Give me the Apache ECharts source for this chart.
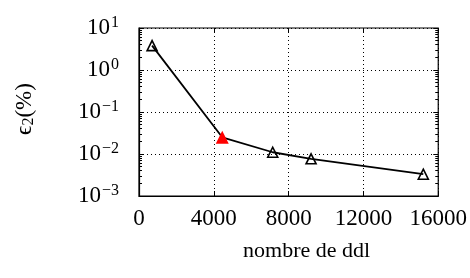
<!DOCTYPE html>
<html lang="fr">
<head>
    <meta charset="utf-8" />
    <title>erreur vs ddl</title>
    <script type="text/javascript" src="https://cdn.jsdelivr.net/npm/echarts/dist/echarts.min.js"></script>
    <style>
        html, body { margin: 0; padding: 0; background: #fff; }
        #chart { width: 470px; height: 278px; }
    </style>
</head>
<body>
    <div id="chart"></div>
    <script type="text/javascript">
        // donnees
        var ddl = [700, 4450, 7150, 9200, 15200];
        var err = [3.8, 0.025, 0.011, 0.0077, 0.0033];
        var redIndex = 1;   // point mis en evidence (rouge)
        var xTicks = [0, 4000, 8000, 12000, 16000];
        var decades = [0.001, 0.01, 0.1, 1];
        var mantissas = [2, 3, 4, 5, 6, 7, 8, 9];

        var font = 'Liberation Serif';
        var xMin = xTicks[0], xMax = xTicks[xTicks.length - 1];

        function logLabel(v) {
            var e = Math.round(Math.log10(v));
            var s = e < 0 ? '\u2212' + (-e) : '' + e;
            return '{b|10}{e|' + s + '}';
        }

        var points = [];
        for (var i = 0; i < ddl.length; i++) {
            var p = { value: [ddl[i], err[i]] };
            if (i === redIndex) {
                p.symbolSize = 13;
                p.itemStyle = { color: '#ff0000', borderColor: '#ff0000', borderWidth: 0 };
            }
            points.push(p);
        }

        // petites graduations du log
        var minorTicks = [];
        decades.forEach(function (d) {
            mantissas.forEach(function (m) { minorTicks.push(+(m * d).toPrecision(3)); });
        });

        function majorTick() { return { show: true, inside: true, length: 5, lineStyle: { color: '#000' } }; }
        function dotted() { return { show: true, lineStyle: { color: '#000', type: [1, 3], width: 1 } }; }

        function minorAxis(pos) {
            return {
                type: 'log',
                position: pos,
                min: 0.001, max: 10, logBase: 10,
                axisLine: { show: false, onZero: false },
                axisTick: { show: true, inside: true, length: 3, customValues: minorTicks, lineStyle: { color: '#000' } },
                axisLabel: { show: false },
                splitLine: { show: false }
            };
        }

        var chart = echarts.init(document.getElementById('chart'));
        var option = {
            animation: false,
            backgroundColor: '#fff',
            textStyle: { fontFamily: font, color: '#000' },
            // le cadre complet
            grid: { left: 139, right: 30, top: 28, bottom: 82, containLabel: false,
                    show: true, borderColor: '#000', borderWidth: 1.2, backgroundColor: 'transparent' },
            xAxis: [{
                type: 'value',
                min: xMin, max: xMax, interval: 4000,
                name: 'nombre de ddl',
                nameLocation: 'middle',
                nameGap: 44,
                nameTextStyle: { fontFamily: font, fontSize: 22, color: '#000', padding: [0, 0, 0, 36] },
                axisLine: { show: true, onZero: false, lineStyle: { color: '#000', width: 1.2 } },
                axisTick: majorTick(),
                axisLabel: { fontFamily: font, fontSize: 23, color: '#000', margin: 11, formatter: function (v) { return '' + v; } },
                splitLine: dotted()
            }, {
                type: 'value',
                position: 'top',
                min: xMin, max: xMax, interval: 4000,
                axisLine: { show: false, onZero: false },
                axisTick: majorTick(),
                axisLabel: { show: false },
                splitLine: { show: false }
            }],
            yAxis: [{
                type: 'log',
                min: 0.001, max: 10, logBase: 10,
                name: '{n|\u03f5}{s|2}{n|(%)}',
                nameLocation: 'middle',
                nameRotate: 90,
                nameGap: 102,
                nameTextStyle: {
                    color: '#000',
                    padding: [0, 0, 0, 6],
                    rich: {
                        n: { fontFamily: font, fontSize: 23, color: '#000' },
                        s: { fontFamily: font, fontSize: 16, color: '#000', verticalAlign: 'bottom', padding: [8, 0, 0, 0] }
                    }
                },
                axisLine: { show: true, onZero: false, lineStyle: { color: '#000', width: 1.2 } },
                axisTick: majorTick(),
                axisLabel: {
                    margin: 20,
                    formatter: logLabel,
                    rich: {
                        b: { fontFamily: font, fontSize: 23, color: '#000', lineHeight: 26 },
                        e: { fontFamily: font, fontSize: 16, color: '#000', verticalAlign: 'top', padding: [0, 0, 10, 1] }
                    }
                },
                splitLine: dotted()
            }, {
                type: 'log',
                position: 'right',
                min: 0.001, max: 10, logBase: 10,
                axisLine: { show: false, onZero: false },
                axisTick: majorTick(),
                axisLabel: { show: false },
                splitLine: { show: false }
            }, minorAxis('left'), minorAxis('right')],
            series: [{
                type: 'line',
                data: points,
                symbol: 'triangle',
                symbolSize: 10,
                showAllSymbol: true,
                lineStyle: { color: '#000', width: 1.8 },
                itemStyle: { color: 'rgba(255,255,255,0)', borderColor: '#000', borderWidth: 1.6 },
                z: 5
            }]
        };
        chart.setOption(option);
    </script>
</body>
</html>
